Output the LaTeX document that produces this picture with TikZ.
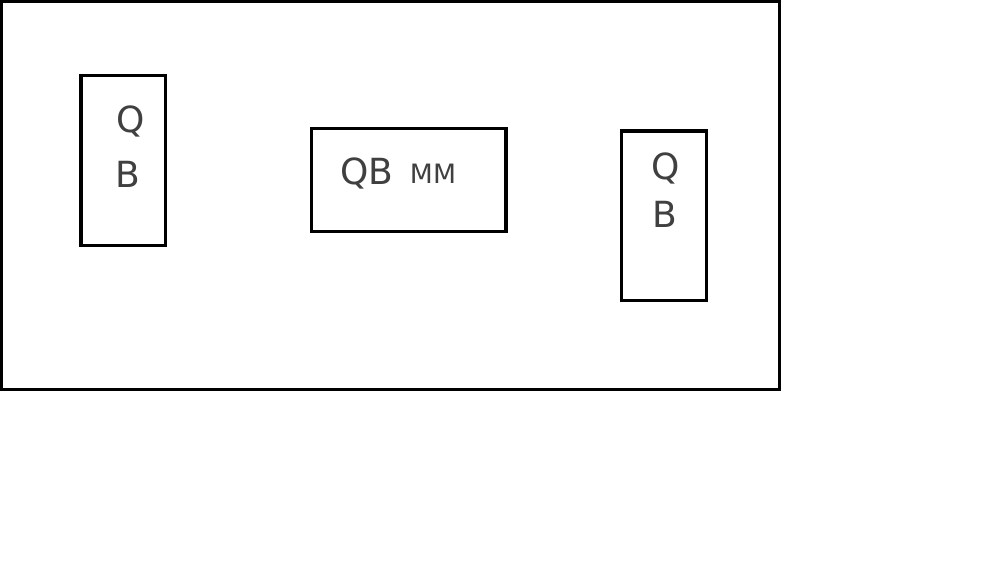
\documentclass[tikz,border=0pt]{standalone}
\usepackage{fontspec}
\setmainfont{DejaVu Sans}
\begin{document}
\begin{tikzpicture}[x=0.75pt,y=-0.75pt,
  box/.style={draw=black,line width=2.6pt},
  hand/.style={text=black!75,inner sep=0pt,font=\fontsize{27}{27}\selectfont},
  handsmall/.style={text=black!75,inner sep=0pt,font=\fontsize{20}{20}\selectfont}]
\useasboundingbox (0,0) rectangle (1000,562);
\fill[white] (0,0) rectangle (1000,562);
\draw[box] (1,1) rectangle (779.5,389.5);
\draw[box] (81,75.5) rectangle (165.5,245.5);
\draw[box] (311.5,128.5) rectangle (506,231.5);
\draw[box] (621.5,131) rectangle (706.5,300.5);
\node[hand] (q1) at (131,121) {Q};
\node[hand] (b1) at (128,174) {B};
\node[hand] (qb) at (367,173) {QB};
\node[handsmall] (mm) at (433,174) {MM};
\node[hand] (q2) at (666,168) {Q};
\node[hand] (b2) at (665,214) {B};
\end{tikzpicture}
\end{document}
